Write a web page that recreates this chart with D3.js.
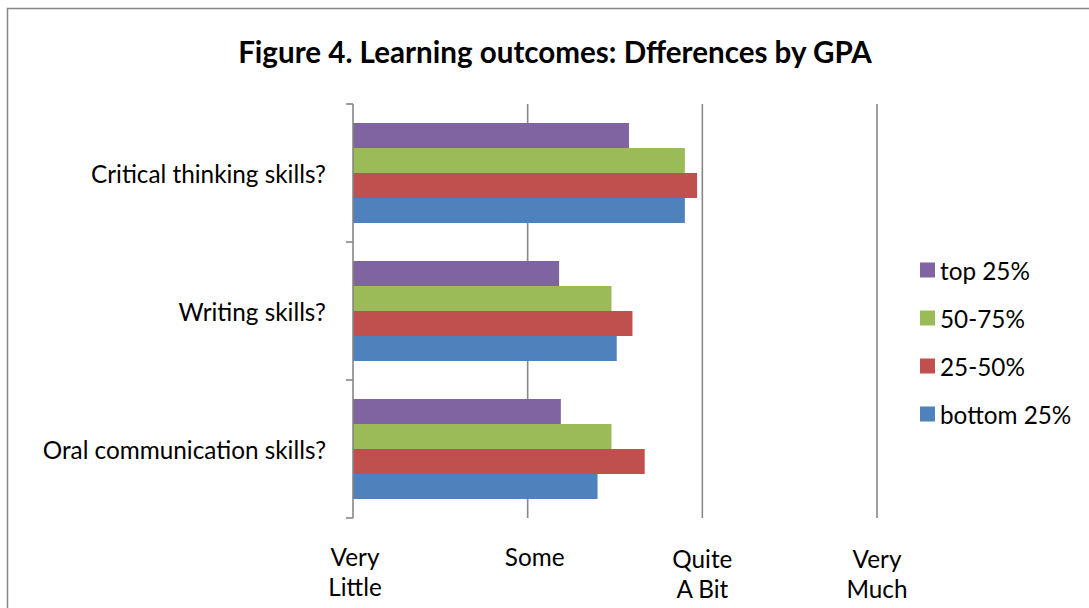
<!DOCTYPE html>
<html>
<head>
<meta charset="utf-8">
<script src="https://cdn.jsdelivr.net/npm/d3@7"></script>
<style>
  html, body { margin: 0; padding: 0; background: #fff; }
  svg { display: block; }
  text { font-family: Lato, "Open Sans", "Noto Sans", sans-serif; fill: #000; }
</style>
</head>
<body>
<svg id="chart" width="1089" height="608"></svg>
<script>
// ---- data ----
const title = "Figure 4. Learning outcomes: Dfferences by GPA";
const categories = ["Critical thinking skills?", "Writing skills?", "Oral communication skills?"];
const seriesNames = ["top 25%", "50-75%", "25-50%", "bottom 25%"];
const top25 = [2.58, 2.18, 2.19];
const mid5075 = [2.90, 2.48, 2.48];
const mid2550 = [2.97, 2.60, 2.67];
const bottom25 = [2.90, 2.51, 2.40];
const seriesColors = ["#8064A2", "#9BBB59", "#C0504D", "#4F81BD"];
const tickValues = [1, 2, 3, 4];
const tickLabels = [["Very", "Little"], ["Some"], ["Quite", "A Bit"], ["Very", "Much"]];

const seriesValues = [top25, mid5075, mid2550, bottom25];

const svg = d3.select("#chart");

// outer border
svg.append("rect").attr("x", 7.5).attr("y", 8.5).attr("width", 1100).attr("height", 700)
  .attr("fill", "#fff").attr("stroke", "#868686").attr("stroke-width", 1.5);

function fitFont(sel, target, base) {
  sel.style("font-size", base + "px");
  const len = sel.node().getComputedTextLength();
  const size = base * target / len;
  sel.style("font-size", size + "px");
  return size;
}

// title
const t = svg.append("text").attr("x", 555).attr("y", 51)
  .attr("text-anchor", "middle").attr("dominant-baseline", "central")
  .style("font-weight", "bold").text(title);
fitFont(t, 634, 24);

// scales
const x = d3.scaleLinear().domain([1, 4]).range([353, 877]);
const y = d3.scaleBand().domain(categories).range([104, 518]).padding(0);
const ys = d3.scaleBand().domain(seriesNames).range([0, y.bandwidth()]).paddingInner(0).paddingOuter(0.76);

// gridlines
svg.append("g").selectAll("line").data(tickValues.slice(1)).join("line")
  .attr("x1", d => x(d)).attr("x2", d => x(d))
  .attr("y1", 104).attr("y2", 518)
  .attr("stroke", "#888").attr("stroke-width", 1.6);

// bars
const rows = [];
seriesNames.forEach((s, si) => {
  categories.forEach((c, ci) => rows.push({ s, c, v: seriesValues[si][ci], color: seriesColors[si] }));
});
svg.append("g").selectAll("rect").data(rows).join("rect")
  .attr("x", x(1))
  .attr("y", d => y(d.c) + ys(d.s))
  .attr("width", d => x(d.v) - x(1))
  .attr("height", ys.bandwidth())
  .attr("fill", d => d.color);

// left axis
const bounds = [104, 104 + y.step(), 104 + 2 * y.step(), 518];
const ax = svg.append("g");
ax.append("line").attr("x1", 353).attr("x2", 353).attr("y1", 104).attr("y2", 518)
  .attr("stroke", "#868686").attr("stroke-width", 1.6);
ax.selectAll("line.tk").data(bounds).join("line").attr("class", "tk")
  .attr("x1", 346).attr("x2", 353).attr("y1", d => d).attr("y2", d => d)
  .attr("stroke", "#868686").attr("stroke-width", 1.6);

// category labels
const catLabels = svg.append("g").selectAll("text").data(categories).join("text")
  .attr("x", 326).attr("y", d => y(d) + y.bandwidth() / 2)
  .attr("text-anchor", "end").attr("dominant-baseline", "central")
  .text(d => d);
const probe = catLabels.filter((d, i) => i === 0);
const fs = fitFont(probe, 235, 22);
catLabels.style("font-size", fs + "px");

// x tick labels
const xl = svg.append("g").selectAll("text").data(tickValues).join("text")
  .attr("text-anchor", "middle")
  .style("font-size", fs + "px")
  .attr("transform", (d, i) => `translate(${x(d) + (i === 1 ? 7 : (i === 0 ? 2 : 0))},${i < 2 ? 556 : 558})`);
xl.selectAll("tspan").data((d, i) => tickLabels[i]).join("tspan")
  .attr("x", 0).attr("y", (d, j) => j * 30)
  .attr("dominant-baseline", "central")
  .text(d => d);

// legend
const lg = svg.append("g").selectAll("g").data(seriesNames).join("g")
  .attr("transform", (d, i) => `translate(920,${270 + i * 48})`);
lg.append("rect").attr("x", 0).attr("y", -7.5).attr("width", 15).attr("height", 15)
  .attr("fill", (d, i) => seriesColors[i]);
lg.append("text").attr("x", 20).attr("y", 0).attr("dominant-baseline", "central")
  .style("font-size", fs + "px").text(d => d);
</script>
</body>
</html>
